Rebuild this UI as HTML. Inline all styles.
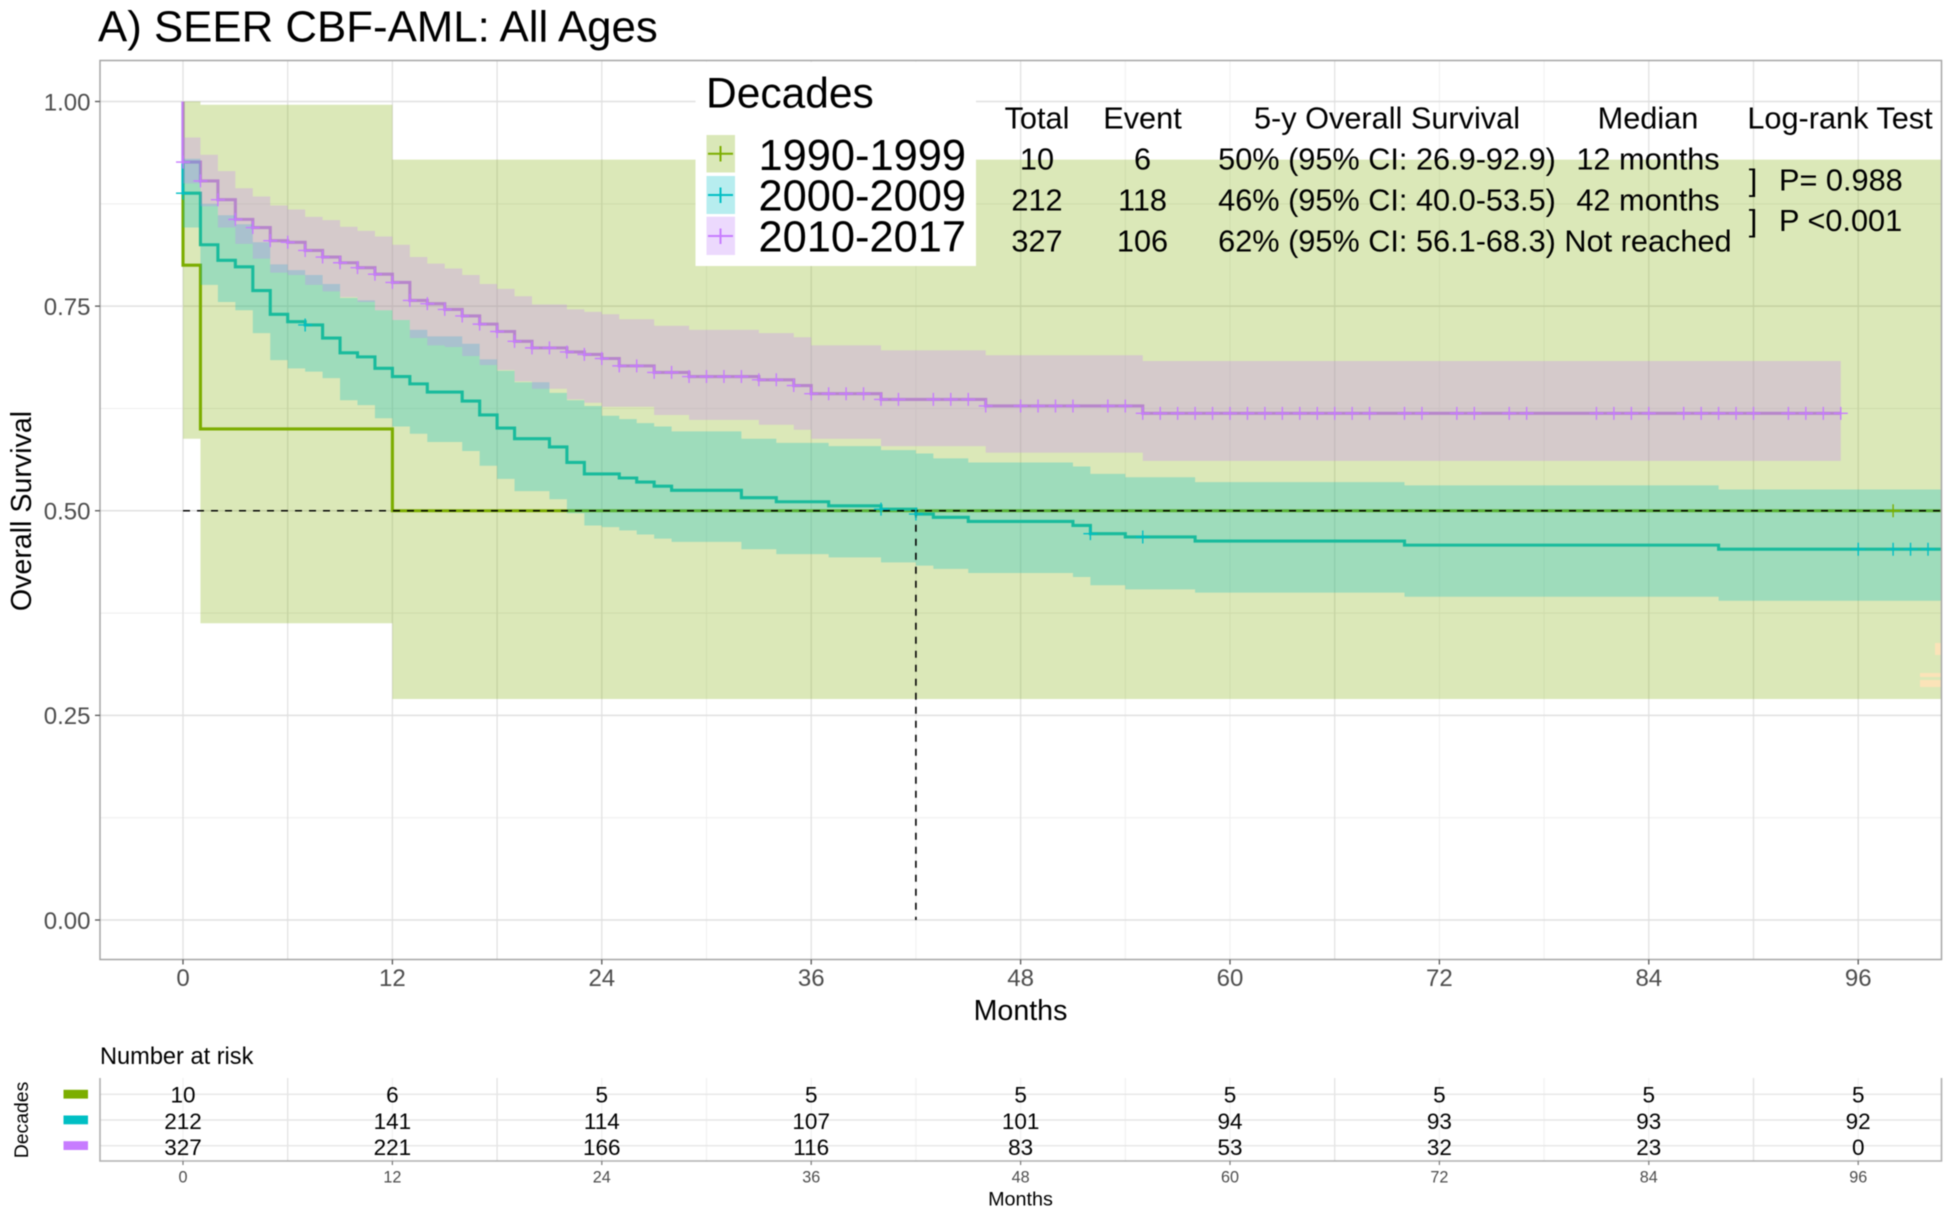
<!DOCTYPE html>
<html lang="en">
<head>
<meta charset="utf-8">
<title>SEER CBF-AML: All Ages</title>
<style>
html,body{margin:0;padding:0;background:#fff;}
svg{display:block;font-family:"Liberation Sans",Arial,sans-serif;filter:blur(0.45px);}
</style>
</head>
<body>
<svg id="chart" xmlns="http://www.w3.org/2000/svg" width="1949" height="1219" viewBox="0 0 1949 1219">
  <defs><clipPath id="panel-clip"><rect x="100" y="60.5" width="1841.5" height="899"/></clipPath></defs>
  <rect x="0" y="0" width="1949" height="1219" fill="#fff"/>
  <text x="98" y="41.5" font-size="43.8" fill="#000">A) SEER CBF-AML: All Ages</text>
  <g id="grid"></g>
  <g id="plot" clip-path="url(#panel-clip)"></g>
  <rect x="100" y="60.5" width="1841.5" height="899" fill="none" stroke="#a6a6a6" stroke-width="1.5"/>
  <g id="axes"></g>
  <text transform="translate(31,511) rotate(-90)" text-anchor="middle" font-size="28.6" fill="#000">Overall Survival</text>
  <text x="1020.5" y="1020" text-anchor="middle" font-size="28.6" fill="#000">Months</text>

  <g>
    <rect x="695.5" y="62" width="280.5" height="204" fill="#fff"/>
    <text x="706" y="107.5" font-size="42.5" fill="#000">Decades</text>
    <g>
      <rect x="706.5" y="135" width="28.5" height="37.5" fill="#dae8b8"/>
      <path d="M708 153.7H733M720.5 146V161.5" stroke="#7CAE00" stroke-width="2" fill="none"/>
      <text x="758.5" y="170" font-size="43.4" fill="#000">1990-1999</text>
    </g>
    <g>
      <rect x="706.5" y="176" width="28.5" height="38" fill="#b7edef"/>
      <path d="M708 195H733M720.5 187.5V203" stroke="#00BFC4" stroke-width="2" fill="none"/>
      <text x="758.5" y="210.7" font-size="43.4" fill="#000">2000-2009</text>
    </g>
    <g>
      <rect x="706.5" y="216.7" width="28.5" height="38.3" fill="#ecd9fd"/>
      <path d="M708 236H733M720.5 228.5V244" stroke="#C77CFF" stroke-width="2" fill="none"/>
      <text x="758.5" y="251.7" font-size="43.4" fill="#000">2010-2017</text>
    </g>
  </g>

  <g font-size="30.7" fill="#000" text-anchor="middle">
    <text x="1037" y="128.3">Total</text>
    <text x="1142.5" y="128.3">Event</text>
    <text x="1387" y="128.3">5-y Overall Survival</text>
    <text x="1648" y="128.3">Median</text>
    <text x="1840" y="128.3">Log-rank Test</text>

    <text x="1037" y="169.3">10</text>
    <text x="1142.5" y="169.3">6</text>
    <text x="1387" y="169.3">50% (95% CI: 26.9-92.9)</text>
    <text x="1648" y="169.3">12 months</text>

    <text x="1037" y="210.7">212</text>
    <text x="1142.5" y="210.7">118</text>
    <text x="1387" y="210.7">46% (95% CI: 40.0-53.5)</text>
    <text x="1648" y="210.7">42 months</text>

    <text x="1037" y="251.5">327</text>
    <text x="1142.5" y="251.5">106</text>
    <text x="1387" y="251.5">62% (95% CI: 56.1-68.3)</text>
    <text x="1648" y="251.5">Not reached</text>

    <text x="1753" y="190.3">]</text>
    <text x="1779" y="190.3" text-anchor="start">P= 0.988</text>
    <text x="1753" y="231">]</text>
    <text x="1779" y="231" text-anchor="start">P &lt;0.001</text>
  </g>

  <text x="100" y="1064" font-size="23.6" fill="#000">Number at risk</text>
  <g id="risk"></g>
  <text transform="translate(28,1120) rotate(-90)" text-anchor="middle" font-size="19.4" fill="#000">Decades</text>
  <text x="1020.5" y="1205.5" text-anchor="middle" font-size="19.8" fill="#000">Months</text>
</svg>

<script>
// ---- survival data ----
const tickMonths = [0, 12, 24, 36, 48, 60, 72, 84, 96];
const minorMonths = [6, 18, 30, 42, 54, 66, 78, 90];
const faintMonths = [30, 42, 54, 60, 72, 78];
const yMajor = [0, 0.25, 0.5, 0.75, 1];
const yMinor = [0.125, 0.375, 0.625, 0.875];
const yTickLabels = ['0.00', '0.25', '0.50', '0.75', '1.00'];

const g90Months = [0, 1, 12];
const g90Surv = [0.8, 0.6, 0.5];
const g90Upper = [1.0, 0.996, 0.929];
const g90Lower = [0.588, 0.3625, 0.27];
const g90Censor = [98];

const g00Months = [0,1,2,3,4,5,6,7,8,9,10,11,12,13,14,16,17,18,19,21,22,23,24,25,26,27,28,32,34,37,40,42,43,45,51,52,54,58,70,88];
const g00Surv = [.888,.825,.806,.798,.769,.740,.731,.727,.711,.693,.688,.674,.664,.655,.645,.634,.617,.601,.588,.578,.559,.545,.545,.540,.535,.530,.525,.516,.511,.506,.502,.496,.492,.487,.482,.472,.468,.463,.458,.453];
const g00Upper = [.930,.875,.861,.850,.828,.801,.794,.788,.777,.760,.757,.745,.733,.721,.713,.704,.685,.671,.657,.644,.635,.628,.616,.612,.607,.603,.597,.588,.583,.579,.574,.570,.564,.559,.554,.545,.541,.535,.531,.526];
const g00Lower = [.846,.776,.755,.745,.717,.684,.674,.670,.662,.635,.629,.613,.603,.594,.584,.573,.555,.539,.524,.514,.497,.482,.480,.476,.471,.466,.462,.453,.447,.443,.437,.433,.429,.424,.419,.409,.404,.400,.395,.390];
const g00Censor = [0, 7, 40, 42, 52, 55, 96, 98, 99, 100];

const g10Months = [0,1,2,3,4,5,6,7,8,9,10,11,12,13,14,15,16,17,18,19,20,22,23,24,25,27,29,33,35,36,40,46,55];
const g10Surv = [.926,.903,.880,.856,.846,.830,.828,.818,.810,.803,.797,.789,.779,.757,.753,.746,.738,.728,.719,.707,.699,.694,.691,.686,.677,.669,.664,.660,.653,.643,.636,.628,.619];
const g10Upper = [.956,.935,.915,.894,.884,.873,.868,.859,.855,.847,.842,.835,.825,.810,.802,.796,.788,.777,.771,.762,.752,.746,.743,.740,.734,.726,.721,.717,.712,.702,.696,.690,.683];
const g10Lower = [.900,.872,.846,.826,.808,.791,.788,.776,.768,.761,.755,.745,.733,.711,.702,.700,.689,.678,.672,.658,.649,.636,.632,.627,.627,.617,.611,.605,.599,.588,.579,.571,.561];
const g10Censor = [0,1,2,3,4,5,6,7,8,9,10,11,12,13,14,15,16,17,18,19,20,21,22,23,24,25,26,27,28,29,30,31,32,33,34,35,36,37,38,39,40,41,43,44,45,46,48,49,50,51,53,54,55,56,57,58,59,60,61,62,63,64,65,66,67,68,70,71,73,74,76,77,81,82,83,84,86,87,88,89,90,92,93,94,95];
const g10LastMonth = [95];

const medianMonth = [42];
const medianLevel = [0.5];

const riskMonths = [0, 12, 24, 36, 48, 60, 72, 84, 96];
const risk1990 = [10, 6, 5, 5, 5, 5, 5, 5, 5];
const risk2000 = [212, 141, 114, 107, 101, 94, 93, 93, 92];
const risk2010 = [327, 221, 166, 116, 83, 53, 32, 23, 0];

// ---- axis functions ----
const xMaxMonth = 100.8;
function xScale(m) { return 183 + 17.45 * m; }
function yScale(v) { return 920 - 818.5 * v; }

const NS = 'http://www.w3.org/2000/svg';
function make(tag, attrs, parent) {
  const e = document.createElementNS(NS, tag);
  for (const k in attrs) e.setAttribute(k, attrs[k]);
  parent.appendChild(e);
  return e;
}
function setText(e, s) { e.textContent = s; return e; }

const grid = document.getElementById('grid');
const plot = document.getElementById('plot');
const axes = document.getElementById('axes');
const risk = document.getElementById('risk');

// ---- gridlines ----
yMinor.forEach(function (v) {
  const l = make('line', {x1: 100, x2: 1941.5, y1: yScale(v), y2: yScale(v), stroke: '#eeeeee', 'stroke-width': 1}, grid);
  
  
});
minorMonths.concat(tickMonths).forEach(function (m) {
  const faint = faintMonths.indexOf(m) >= 0;
  const l = make('line', {x1: xScale(m), x2: xScale(m), y1: 60.5, y2: 959.5, stroke: faint ? '#f0f0f0' : '#e2e2e2', 'stroke-width': faint ? 1 : 1.3}, grid);
  
  
});
yMajor.forEach(function (v) {
  const l = make('line', {x1: 100, x2: 1941.5, y1: yScale(v), y2: yScale(v), stroke: '#e0e0e0', 'stroke-width': 1.4}, grid);
  
  
});

// ---- marks ----
function stepLine(months, vals, endMonth) {
  let d = 'M' + xScale(months[0]) + ' ' + yScale(1);
  months.forEach(function (m, i) {
    d += 'V' + yScale(vals[i]);
    const next = i + 1 < months.length ? months[i + 1] : endMonth;
    d += 'H' + xScale(next);
  });
  return d;
}
function ribbon(months, up, lo, endMonth) {
  let d = '';
  months.forEach(function (m, i) {
    const next = i + 1 < months.length ? months[i + 1] : endMonth;
    d += (i === 0 ? 'M' : 'L') + xScale(m) + ' ' + yScale(up[i]);
    d += 'L' + xScale(next) + ' ' + yScale(up[i]);
  });
  for (let i = months.length - 1; i >= 0; i--) {
    const next = i + 1 < months.length ? months[i + 1] : endMonth;
    d += 'L' + xScale(next) + ' ' + yScale(lo[i]);
    d += 'L' + xScale(months[i]) + ' ' + yScale(lo[i]);
  }
  return d + 'Z';
}
function survivalAt(months, vals, t) {
  let v = vals[0];
  months.forEach(function (m, i) { if (m <= t) v = vals[i]; });
  return v;
}

const line90 = make('path', {d: stepLine(g90Months, g90Surv, xMaxMonth), fill: 'none', stroke: '#7CAE00', 'stroke-width': 3.1}, plot);


const line00 = make('path', {d: stepLine(g00Months, g00Surv, xMaxMonth), fill: 'none', stroke: '#00BFC4', 'stroke-width': 3.1}, plot);


const line10 = make('path', {d: stepLine(g10Months, g10Surv, g10LastMonth[0]), fill: 'none', stroke: '#C77CFF', 'stroke-width': 3.1}, plot);



const band90 = make('path', {d: ribbon(g90Months, g90Upper, g90Lower, xMaxMonth), fill: '#7CAE00', 'fill-opacity': 0.28}, plot);


const band00 = make('path', {d: ribbon(g00Months, g00Upper, g00Lower, xMaxMonth), fill: '#00BFC4', 'fill-opacity': 0.28}, plot);


const band10 = make('path', {d: ribbon(g10Months, g10Upper, g10Lower, g10LastMonth[0]), fill: '#C77CFF', 'fill-opacity': 0.28}, plot);



// median reference lines
const hDash = make('line', {x1: xScale(0), x2: 1941.5, y1: yScale(medianLevel[0]), y2: yScale(medianLevel[0]), stroke: '#000', 'stroke-width': 1.6, 'stroke-dasharray': '7 7'}, plot);


const vDash = make('line', {x1: xScale(medianMonth[0]), x2: xScale(medianMonth[0]), y1: yScale(medianLevel[0]), y2: yScale(0), stroke: '#000', 'stroke-width': 1.6, 'stroke-dasharray': '7 7'}, plot);



function crossPath(t, v) {
  const cx = xScale(t), cy = yScale(v);
  return 'M' + (cx - 7) + ' ' + cy + 'H' + (cx + 7) + 'M' + cx + ' ' + (cy - 6.5) + 'V' + (cy + 6.5);
}
g90Censor.forEach(function (t) {
  const c = make('path', {d: crossPath(t, survivalAt(g90Months, g90Surv, t)), fill: 'none', stroke: '#7CAE00', 'stroke-width': 1.4}, plot);
  
  
});
g00Censor.forEach(function (t) {
  const c = make('path', {d: crossPath(t, survivalAt(g00Months, g00Surv, t)), fill: 'none', stroke: '#00BFC4', 'stroke-width': 1.4}, plot);
  
  
});
g10Censor.forEach(function (t) {
  const c = make('path', {d: crossPath(t, survivalAt(g10Months, g10Surv, t)), fill: 'none', stroke: '#C77CFF', 'stroke-width': 1.4}, plot);
  
  
});

// small scan artefacts in lower-right corner of the panel
const smudgeA = make('rect', {x: 1935, y: 643, width: 6.5, height: 12, fill: '#fbe3b8'}, plot);


const smudgeB = make('rect', {x: 1920, y: 673, width: 21.5, height: 4, fill: '#fbe3b8'}, plot);


const smudgeC = make('rect', {x: 1920, y: 680, width: 21.5, height: 7, fill: '#fbe3b8'}, plot);



// ---- axes ----
tickMonths.forEach(function (m) {
  const t = make('line', {x1: xScale(m), x2: xScale(m), y1: 959.5, y2: 964.5, stroke: '#555', 'stroke-width': 1.3}, axes);
  
  
  const lab = make('text', {x: xScale(m), y: 986, 'text-anchor': 'middle', 'font-size': 24, fill: '#4d4d4d'}, axes);
  
  
  setText(lab, String(m));
});
yMajor.forEach(function (v, i) {
  const t = make('line', {x1: 95, x2: 100, y1: yScale(v), y2: yScale(v), stroke: '#555', 'stroke-width': 1.3}, axes);
  
  
  const lab = make('text', {x: 90.5, y: yScale(v) + 8.8, 'text-anchor': 'end', 'font-size': 24, fill: '#4d4d4d'}, axes);
  
  
  setText(lab, yTickLabels[i]);
});

// ---- risk table ----
const riskRowY = [1094.3, 1120, 1145.7];
const riskTextY = [1102.7, 1129, 1155];
const riskColors = ['#7CAE00', '#00BFC4', '#C77CFF'];
const riskRows = [risk1990, risk2000, risk2010];
const riskRowNames = ['1990-1999', '2000-2009', '2010-2017'];

minorMonths.concat(tickMonths).forEach(function (m) {
  const strong = minorMonths.indexOf(m) >= 0 && m % 12 !== 0 && faintMonths.indexOf(m) < 0;
  const l = make('line', {x1: xScale(m), x2: xScale(m), y1: 1078, y2: 1161, stroke: strong ? '#e2e2e2' : '#f2f2f2', 'stroke-width': 1.3}, risk);
  
  
});
riskRowY.forEach(function (y, i) {
  const l = make('line', {x1: 100, x2: 1941.5, y1: y, y2: y, stroke: '#e6e6e6', 'stroke-width': 1.4}, risk);
  
  
  const key = make('rect', {x: 63.5, y: y - 4.5, width: 24.5, height: 8.8, fill: riskColors[i]}, risk);
  
  
});
const riskBottom = make('path', {d: 'M100 1078V1161H1941.5V1078', fill: 'none', stroke: '#b0b0b0', 'stroke-width': 1.6}, risk);



riskRows.forEach(function (row, r) {
  row.forEach(function (val, i) {
    const t = make('text', {x: xScale(riskMonths[i]), y: riskTextY[r], 'text-anchor': 'middle', 'font-size': 22.5, fill: '#000'}, risk);
    
    
    setText(t, String(val));
  });
});
riskMonths.forEach(function (m) {
  const tick = make('line', {x1: xScale(m), x2: xScale(m), y1: 1161, y2: 1165, stroke: '#777', 'stroke-width': 1.2}, risk);
  
  
  const lab = make('text', {x: xScale(m), y: 1182.7, 'text-anchor': 'middle', 'font-size': 16.2, fill: '#4d4d4d'}, risk);
  
  
  setText(lab, String(m));
});
</script>
</body>
</html>
